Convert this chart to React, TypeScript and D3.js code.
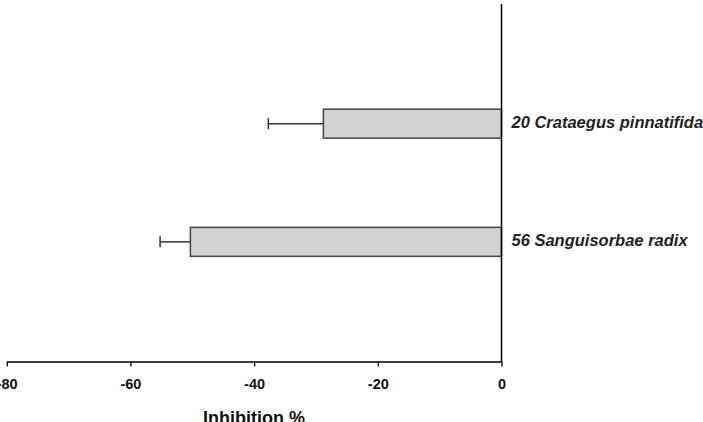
import { useRef, useEffect } from 'react';
import * as d3 from 'd3';

const samples = ['20 Crataegus pinnatifida', '56 Sanguisorbae radix'];
const inhibition = [-28.8, -50.3];
const errors = [8.9, 4.9];
const xTicks = [-80, -60, -40, -20, 0];

function InhibitionChart({ width, height }: { width: number; height: number }) {
  const ref = useRef<SVGSVGElement>(null);

  useEffect(() => {
    const svg = d3.select(ref.current);
    svg.selectAll('*').remove();

    const left = 6.7;
    const right = 501.5;
    const top = 4;
    const bottom = 361.5;
    const font = 'Liberation Sans, Arial, sans-serif';

    const x = d3.scaleLinear().domain([-80, 0]).range([left, right]);
    const y = d3.scaleBand<string>()
      .domain(samples)
      .range([top, bottom])
      .paddingInner(0.755)
      .paddingOuter(0.89);

    const rows = samples.map((name, i) => ({ name, value: inhibition[i], err: errors[i] }));

    // error bars extend outward from the bar end
    const eb = svg.append('g')
      .attr('stroke', '#333')
      .attr('stroke-width', 1.5);
    rows.forEach(d => {
      const cy = y(d.name)! + y.bandwidth() / 2;
      eb.append('line')
        .attr('x1', x(d.value)).attr('x2', x(d.value - d.err))
        .attr('y1', cy).attr('y2', cy);
      eb.append('line')
        .attr('x1', x(d.value - d.err)).attr('x2', x(d.value - d.err))
        .attr('y1', cy - 5.5).attr('y2', cy + 5.5);
    });

    svg.append('g')
      .selectAll('rect')
      .data(rows)
      .join('rect')
      .attr('x', d => x(d.value))
      .attr('width', d => x(0) - x(d.value))
      .attr('y', d => y(d.name)!)
      .attr('height', y.bandwidth())
      .attr('fill', '#d2d2d2')
      .attr('stroke', '#444')
      .attr('stroke-width', 1.5);

    svg.append('g')
      .selectAll('text')
      .data(rows)
      .join('text')
      .attr('x', x(0) + 10)
      .attr('y', d => y(d.name)! + y.bandwidth() / 2)
      .attr('dominant-baseline', 'middle')
      .attr('font-family', font)
      .attr('font-size', 16.5)
      .attr('font-weight', 'bold')
      .attr('font-style', 'italic')
      .attr('fill', '#222')
      .text(d => d.name);

    // vertical axis at zero
    svg.append('line')
      .attr('x1', x(0)).attr('x2', x(0))
      .attr('y1', top).attr('y2', bottom)
      .attr('stroke', '#000')
      .attr('stroke-width', 1.5);

    const xAxis = d3.axisBottom(x)
      .tickValues(xTicks)
      .tickFormat(d => String(d))
      .tickSize(5)
      .tickPadding(12)
      .tickSizeOuter(0);

    const gx = svg.append('g')
      .attr('transform', `translate(0,${bottom})`)
      .call(xAxis);
    gx.select('.domain').attr('stroke-width', 1.5);
    gx.selectAll('.tick line').attr('stroke-width', 1.3);
    gx.selectAll('text')
      .attr('font-family', font)
      .attr('font-size', 14.5)
      .attr('font-weight', 'bold')
      .attr('fill', '#111');

    svg.append('text')
      .attr('x', (left + right) / 2)
      .attr('y', 424)
      .attr('text-anchor', 'middle')
      .attr('font-family', font)
      .attr('font-size', 18)
      .attr('font-weight', 'bold')
      .attr('fill', '#111')
      .text('Inhibition %');
  }, [width, height]);

  return (
    <svg ref={ref} width={width} height={height}
      style={{ position: 'absolute', left: 0, top: 0, background: '#fff' }} />
  );
}

export default function App() {
  return <InhibitionChart width={703} height={422} />;
}
